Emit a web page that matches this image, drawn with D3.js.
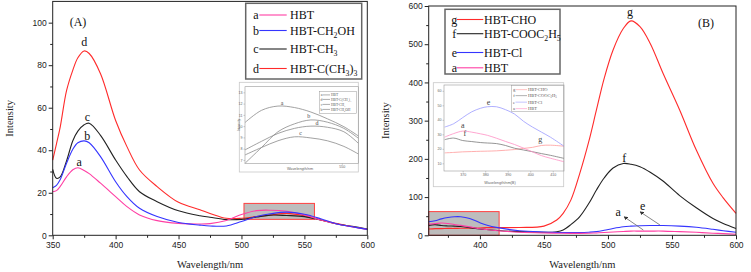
<!DOCTYPE html>
<html>
<head>
<meta charset="utf-8">
<script src="https://cdn.jsdelivr.net/npm/d3@7"></script>
<style>
  body { margin: 0; background: #fff; }
  svg { display: block; }
  .serif { font-family: 'Liberation Serif', 'Times New Roman', 'DejaVu Serif', serif; }
  .sans { font-family: 'Liberation Sans', Arial, sans-serif; }
</style>
</head>
<body>
<svg id="chart" width="751" height="272" font-family="Liberation Serif, Times New Roman, serif"></svg>
<script>
// ---------- panel A data (wavelength nm / intensity) ----------
const waveA  = [350,353,356,361,366,370,375,379,388,400,409,419,433,450,467,475,488,500,512,523,536,550,563,576,588,600];
const hbtA   = [20.5,21,23,27.5,30.8,31.8,30.5,29,24.5,18.2,13.5,9.6,6.9,5.6,5.3,5.5,7,9.8,11.6,11.8,11.3,9.6,7.2,5.3,4,2.8];
const ch2ohA = [22.4,23.5,26.2,33.9,40.5,43.5,44.4,43.5,37,25.2,18.2,12.7,8.8,6,4.8,4.4,4.4,6.5,8.8,10.1,10.9,9.9,7.8,5.3,4,2.8];
const ch3A   = [31,26.8,27.5,35,44.5,49,52,52.7,47,35.4,27.6,20.5,15.8,11.5,9.2,8.5,7.4,7.5,8.6,9.5,9.3,8.8,7.2,5.3,4.2,3];
const tbuA   = [35.4,43,51,68,77.7,83.5,86.7,85.5,76,54,41.7,30.7,22.9,15.5,12,10.3,8,8,8.8,9.5,10.3,9.2,7.2,5.5,4,2.8];

// inset of panel A (zoom on 503-558 nm)
const insetWaveA = [503,511,519,527,535,543,551,558];
const insetHbtA   = [10.32,11.4,11.78,11.65,11.25,10.65,9.95,9.13];
const insetCh2ohA = [6.7,8.1,9.5,10.2,10.55,10.35,9.8,8.93];
const insetTbuA   = [7.89,8.65,9.35,9.8,10.0,9.9,9.5,8.48];
const insetCh3A   = [7.44,8.1,8.7,9.05,8.95,8.7,8.2,7.53];

// ---------- panel B data ----------
const waveB  = [360,365,370,375,380,385,392,400,405,414,431,450,460,465,471,478,485,491,497,504,512,518,525,533,543,556,569,582,590,600];
const choB   = [16.5,17.5,17.5,18,18,18.5,18.5,19,20,20,20.5,24,40,57.5,92,162,245,328,410,485,541,561,546,502,424,328,223,136,98,57.5];
const esterB = [26,28,25.5,24.5,24,23,20,16.5,15,12.5,9.5,8,9.5,14,28,49,83,118.5,150,176,188,186,179.5,165,142,104,72,44,31,18];
const clB    = [35.5,38,43,46.5,48.5,48.5,44,33,27,20,12,8.6,7.5,7,6.9,7,8,9.5,13,18,22.5,24,25,25.5,25.5,24,21,15.7,12,7.8];
const hbtB   = [29,30.5,32,31,28,26,22,17,15,12,8,6,5.5,5.2,5,5,5.5,6.2,7.2,8.5,10,11,11,11,11,9.5,7.8,5.5,4.5,2.6];

// inset of panel B (zoom on 362-415 nm)
const insetWaveB  = [362,366,370,374,378,381,385,389,393,397,401,405,409,415];
const insetClB    = [35,37.3,41.5,45.5,48,49,49,47,44,39,35,31.5,28,21.8];
const insetHbtB   = [28.1,30.5,32.2,31.5,30.3,29.3,27.3,25.1,23,20.5,17.9,15.3,13.5,11.1];
const insetEsterB = [26.3,27.4,25.7,25,24.3,24,23.6,22.3,20.4,19.2,18,16.7,15.5,13.4];
const insetChoB   = [17.2,17.5,17.9,18.1,18.3,18.4,18.6,19,19.5,20.3,21,22.3,22.5,21.8];

const colors = {pink: '#ff3fa4', blue: '#3535ff', black: '#222', red: '#ff2a2a'};
const SERIF = "'Liberation Serif', 'Times New Roman', serif";
const SANS = "'Liberation Sans', Arial, sans-serif";

const svg = d3.select('#chart');

svg.append('defs').append('marker')
    .attr('id', 'arrow')
    .attr('viewBox', '0 0 10 10')
    .attr('refX', 9).attr('refY', 5)
    .attr('markerWidth', 5).attr('markerHeight', 5)
    .attr('orient', 'auto')
  .append('path')
    .attr('d', 'M0,0 L10,5 L0,10 z')
    .attr('fill', '#333');

// text with "_x" one-char subscripts
function richText(sel, str, size) {
  const parts = str.split(/(_.)/).filter(p => p !== '');
  let shift = 0;
  parts.forEach(p => {
    if (p[0] === '_') {
      sel.append('tspan').attr('font-size', size * 0.65).attr('dy', size * 0.28 - shift).text(p.slice(1));
      shift = size * 0.28;
    } else {
      sel.append('tspan').attr('dy', -shift).text(p);
      shift = 0;
    }
  });
}

function serifText(g, x, y, size, str) {
  return g.append('text')
      .attr('x', x).attr('y', y)
      .attr('font-size', size)
      .attr('fill', '#111')
      .style('font-family', SERIF)
      .text(str);
}

function drawPanel(cfg) {
  const x = d3.scaleLinear().domain(cfg.xDomain).range([cfg.left, cfg.right]);
  const y = d3.scaleLinear().domain(cfg.yDomain).range([cfg.bottom, cfg.top]);
  const g = svg.append('g');

  // highlighted zoom region
  g.append('rect')
      .attr('x', x(cfg.box[0])).attr('y', y(cfg.box[3]))
      .attr('width', x(cfg.box[1]) - x(cfg.box[0]))
      .attr('height', y(cfg.box[2]) - y(cfg.box[3]))
      .attr('fill', '#bdbdbd')
      .attr('stroke', '#ff4040').attr('stroke-width', 1);

  // curves
  const line = d3.line().curve(d3.curveCatmullRom.alpha(0.5));
  cfg.series.forEach(s => {
    g.append('path')
        .datum(cfg.wave.map((w, i) => [x(w), y(s.values[i])]))
        .attr('d', line)
        .attr('fill', 'none')
        .attr('stroke', s.color)
        .attr('stroke-width', 1.1);
  });

  // frame
  g.append('rect')
      .attr('x', cfg.left).attr('y', cfg.top)
      .attr('width', cfg.right - cfg.left).attr('height', cfg.bottom - cfg.top)
      .attr('fill', 'none').attr('stroke', '#222').attr('stroke-width', 1);

  // axes, major + minor ticks
  const xAxisG = g.append('g').attr('transform', `translate(0,${cfg.bottom})`);
  xAxisG.call(d3.axisBottom(x).tickValues(cfg.xMajor).tickSize(4).tickPadding(3).tickFormat(d3.format('d')));
  xAxisG.append('g').call(d3.axisBottom(x).tickValues(cfg.xMinor).tickSize(2.5).tickFormat(''));
  const yAxisG = g.append('g').attr('transform', `translate(${cfg.left},0)`);
  yAxisG.call(d3.axisLeft(y).tickValues(cfg.yMajor).tickSize(4).tickPadding(2).tickFormat(d3.format('d')));
  yAxisG.append('g').call(d3.axisLeft(y).tickValues(cfg.yMinor).tickSize(2.5).tickFormat(''));
  [xAxisG, yAxisG].forEach(a => {
    a.selectAll('path.domain').remove();
    a.selectAll('line').attr('stroke', '#222');
    a.selectAll('text').attr('font-size', 8.5).attr('fill', '#222').style('font-family', SANS);
  });

  // axis titles
  serifText(g, (cfg.left + cfg.right) / 2, 268, 10.5, 'Wavelength/nm')
      .attr('text-anchor', 'middle').attr('fill', '#222');
  serifText(g, 0, 0, 10.5, 'Intensity')
      .attr('transform', `translate(${cfg.yTitleX},${(cfg.top + cfg.bottom) / 2}) rotate(-90)`)
      .attr('text-anchor', 'middle').attr('fill', '#222');

  // panel tag
  serifText(g, cfg.tag[0], cfg.tag[1], 12, cfg.tag[2]).attr('text-anchor', 'middle');

  // curve letters
  cfg.labels.forEach(l => {
    serifText(g, x(l[1]), y(l[2]), 12, l[0]).attr('text-anchor', 'middle');
  });

  // legend
  const lg = cfg.legend;
  g.append('rect')
      .attr('x', lg.x).attr('y', lg.y).attr('width', lg.w).attr('height', lg.h)
      .attr('fill', '#fff').attr('stroke', '#666').attr('stroke-width', 1.5);
  cfg.series.slice().sort((a, b) => a.order - b.order).forEach((s, i) => {
    const by = lg.rows[i];
    serifText(g, lg.letterX, by, 12, s.key).attr('text-anchor', 'middle');
    g.append('line')
        .attr('x1', lg.lineX[0]).attr('x2', lg.lineX[1])
        .attr('y1', by - 4).attr('y2', by - 4)
        .attr('stroke', s.color).attr('stroke-width', 1.1);
    const t = serifText(g, lg.textX, by, 12, null);
    richText(t, s.name, 12);
  });

  return {x, y, g};
}

function drawInset(cfg) {
  const g = svg.append('g');
  g.append('rect')
      .attr('x', cfg.outer[0]).attr('y', cfg.outer[1])
      .attr('width', cfg.outer[2]).attr('height', cfg.outer[3])
      .attr('fill', '#fff').attr('stroke', '#c8c8c8').attr('stroke-width', 0.8);
  const x = d3.scaleLinear().domain(cfg.xDomain).range([cfg.left, cfg.right]);
  const y = d3.scaleLinear().domain(cfg.yDomain).range([cfg.bottom, cfg.top]);
  const line = d3.line().curve(d3.curveCatmullRom.alpha(0.5));
  cfg.series.forEach(s => {
    g.append('path')
        .datum(cfg.wave.map((w, i) => [x(w), y(s.values[i])]))
        .attr('d', line)
        .attr('fill', 'none').attr('stroke', s.color).attr('stroke-width', 0.8);
  });
  g.append('rect')
      .attr('x', cfg.left).attr('y', cfg.top)
      .attr('width', cfg.right - cfg.left).attr('height', cfg.bottom - cfg.top)
      .attr('fill', 'none').attr('stroke', '#999').attr('stroke-width', 0.6);
  const xa = g.append('g').attr('transform', `translate(0,${cfg.bottom})`)
      .call(d3.axisBottom(x).tickValues(cfg.xTicks).tickSize(1.5).tickPadding(1).tickFormat(d3.format('d')));
  const ya = g.append('g').attr('transform', `translate(${cfg.left},0)`)
      .call(d3.axisLeft(y).tickValues(cfg.yTicks).tickSize(1.5).tickPadding(1).tickFormat(d3.format('d')));
  [xa, ya].forEach(a => {
    a.select('.domain').remove();
    a.selectAll('line').attr('stroke', '#999').attr('stroke-width', 0.5);
    a.selectAll('text').attr('font-size', 3.6).attr('fill', '#666').style('font-family', SANS);
  });
  g.append('text')
      .attr('x', cfg.xTitle[0]).attr('y', cfg.xTitle[1])
      .attr('text-anchor', 'middle').attr('font-size', 3.8).attr('fill', '#666')
      .style('font-family', SANS)
      .text(cfg.xTitle[2]);
  if (cfg.yTitle) {
    g.append('text')
        .attr('transform', `translate(${cfg.yTitle[0]},${cfg.yTitle[1]}) rotate(-90)`)
        .attr('text-anchor', 'middle').attr('font-size', 3.4).attr('fill', '#666')
        .style('font-family', SANS)
        .text('Intensity');
  }
  cfg.labels.forEach(l => {
    serifText(g, x(l[1]), y(l[2]), cfg.labelSize, l[0])
        .attr('text-anchor', 'middle').attr('fill', '#444');
  });
  const lg = cfg.legend;
  g.append('rect')
      .attr('x', lg.x).attr('y', lg.y).attr('width', lg.w).attr('height', lg.h)
      .attr('fill', '#fff').attr('stroke', '#999').attr('stroke-width', 0.5);
  lg.items.forEach((it, i) => {
    const by = lg.rows[i];
    serifText(g, lg.letterX, by, lg.size, it[0]).attr('fill', '#555').attr('text-anchor', 'middle');
    g.append('line')
        .attr('x1', lg.lineX[0]).attr('x2', lg.lineX[1])
        .attr('y1', by - lg.size * 0.3).attr('y2', by - lg.size * 0.3)
        .attr('stroke', it[2]).attr('stroke-width', 0.6);
    const t = serifText(g, lg.textX, by, lg.size, null).attr('fill', '#555');
    richText(t, it[1], lg.size);
  });
}

// ---------- panel A ----------
drawPanel({
  left: 52.7, right: 367.3, top: 1.4, bottom: 235.3,
  xDomain: [350, 600], yDomain: [0, 110],
  xMajor: d3.range(350, 601, 50), xMinor: d3.range(375, 600, 50),
  yMajor: d3.range(0, 101, 20), yMinor: d3.range(10, 110, 20),
  yTitleX: 12.8,
  box: [502, 558, 7.5, 15],
  wave: waveA,
  series: [
    {key: 'd', name: 'HBT-C(CH_3)_3', color: colors.red,   values: tbuA,   order: 3},
    {key: 'c', name: 'HBT-CH_3',      color: colors.black, values: ch3A,   order: 2},
    {key: 'a', name: 'HBT',           color: colors.pink,  values: hbtA,   order: 0},
    {key: 'b', name: 'HBT-CH_2OH',    color: colors.blue,  values: ch2ohA, order: 1}
  ],
  labels: [['d', 375.1, 88.8], ['c', 377.5, 53.8], ['b', 377.5, 44.8], ['a', 371.1, 32.6]],
  tag: [78, 25.5, '(A)'],
  legend: {x: 245.7, y: 3.3, w: 116, h: 75.7, rows: [19, 34.5, 53, 72.5],
           letterX: 256, lineX: [259.3, 286.7], textX: 290}
});

drawInset({
  outer: [239.3, 82.3, 119, 89.7],
  left: 245, right: 358.3, top: 86.7, bottom: 163.3,
  xDomain: [503, 558], yDomain: [6.7, 13.5],
  xTicks: [550], yTicks: d3.range(7, 14, 1),
  wave: insetWaveA,
  series: [
    {color: '#8a8a8a', values: insetHbtA},
    {color: '#8a8a8a', values: insetCh2ohA},
    {color: '#8a8a8a', values: insetTbuA},
    {color: '#8a8a8a', values: insetCh3A}
  ],
  labels: [['a', 521, 11.9], ['b', 534, 10.7], ['d', 538, 10.1], ['c', 530, 9.2]],
  labelSize: 6,
  xTitle: [300, 169.5, 'Wavelength/nm'],
  yTitle: [239.5, 125],
  legend: {x: 319.3, y: 91.7, w: 37.4, h: 21.6, rows: [96, 100.5, 105.5, 110.5], size: 3.6,
           letterX: 321.5, lineX: [322.5, 330], textX: 331,
           items: [['a', 'HBT', '#777'], ['d', 'HBT-C(CH_3)_3', '#777'], ['c', 'HBT-CH_3', '#777'], ['b', 'HBT-CH_2OH', '#777']]}
});

// ---------- panel B ----------
const pB = drawPanel({
  left: 428.7, right: 736, top: 6, bottom: 235.3,
  xDomain: [360, 600], yDomain: [0, 600],
  xMajor: d3.range(400, 601, 50), xMinor: d3.range(375, 600, 50),
  yMajor: d3.range(0, 601, 100), yMinor: d3.range(50, 600, 100),
  yTitleX: 388.5,
  box: [360, 415, 0, 62],
  wave: waveB,
  series: [
    {key: 'g', name: 'HBT-CHO',       color: colors.red,   values: choB,   order: 0},
    {key: 'f', name: 'HBT-COOC_2H_5', color: colors.black, values: esterB, order: 1},
    {key: 'e', name: 'HBT-Cl',        color: colors.blue,  values: clB,    order: 2},
    {key: 'a', name: 'HBT',           color: colors.pink,  values: hbtB,   order: 3}
  ],
  labels: [['g', 517.2, 573.8], ['f', 512.7, 190.5], ['a', 508, 51.8], ['e', 527.1, 67.5]],
  tag: [706, 26.5, '(B)'],
  legend: {x: 445, y: 9.3, w: 115, h: 64.7, rows: [23.5, 37.7, 56.5, 71.8],
           letterX: 454.3, lineX: [456.7, 483.3], textX: 484}
});

// arrows pointing to labels a and e
[[527.6, 13.9, 512.5, 48.7], [540.6, 27, 525, 61.7]].forEach(a => {
  pB.g.append('line')
      .attr('x1', pB.x(a[0])).attr('y1', pB.y(a[1]))
      .attr('x2', pB.x(a[2])).attr('y2', pB.y(a[3]))
      .attr('stroke', '#666').attr('stroke-width', 0.8)
      .attr('marker-end', 'url(#arrow)');
});

drawInset({
  outer: [433.3, 82.7, 130.4, 104],
  left: 444, right: 564, top: 85, bottom: 171,
  xDomain: [361.7, 415], yDomain: [4.7, 64],
  xTicks: d3.range(370, 411, 10), yTicks: d3.range(10, 61, 10),
  wave: insetWaveB,
  series: [
    {color: '#ff9a9a', values: insetChoB},
    {color: '#7a7a7a', values: insetEsterB},
    {color: '#9a9aff', values: insetClB},
    {color: '#ff8fc4', values: insetHbtB}
  ],
  labels: [['e', 381.5, 50.5], ['a', 370, 34.5], ['f', 371, 28.5], ['g', 404.5, 24.5]],
  labelSize: 8,
  xTitle: [500, 183.5, 'Wavelength/nm(B)'],
  legend: {x: 511.7, y: 85.7, w: 51.6, h: 26, rows: [91, 97, 103.5, 110], size: 4.5,
           letterX: 514, lineX: [515.5, 527], textX: 528,
           items: [['g', 'HBT-CHO', '#ff9a9a'], ['f', 'HBT-COOC_2H_5', '#7a7a7a'], ['e', 'HBT-Cl', '#9a9aff'], ['a', 'HBT', '#ff8fc4']]}
});
</script>
</body>
</html>
